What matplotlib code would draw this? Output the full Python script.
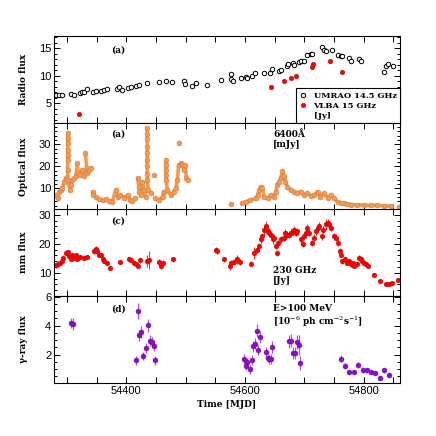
import numpy as np
import matplotlib
matplotlib.use("Agg")
import matplotlib.pyplot as plt
from matplotlib.ticker import MultipleLocator, FuncFormatter
from matplotlib.lines import Line2D

# ---- radio (UMRAO 14.5 GHz, VLBA 15 GHz) [Jy]
umrao_t = [54281, 54287, 54292, 54306, 54311, 54322, 54326, 54329, 54333, 54343,
           54348, 54357, 54362, 54368, 54384, 54388, 54393, 54402, 54407, 54417,
           54421, 54435, 54455, 54466, 54476, 54497, 54499, 54511, 54517, 54535,
           54559, 54576, 54576, 54580, 54593, 54601, 54604, 54612, 54616, 54632,
           54642, 54646, 54657, 54660, 54670, 54672, 54681, 54683, 54691, 54694,
           54699, 54705, 54711, 54713, 54730, 54733, 54736, 54747, 54756, 54761,
           54764, 54775, 54778, 54792, 54795, 54834, 54837, 54840, 54849]
umrao_f = [6.4, 6.5, 6.5, 6.7, 6.45, 6.9, 6.95, 7.0, 7.5, 7.1,
           7.2, 7.3, 7.4, 7.55, 7.55, 7.85, 7.4, 7.7, 8.0, 8.15,
           8.3, 8.6, 8.9, 9.0, 8.9, 9.1, 8.5, 8.15, 8.75, 8.3,
           9.25, 10.3, 9.35, 9.05, 9.65, 9.8, 9.55, 9.85, 10.45, 10.4,
           10.55, 11.2, 10.9, 11.05, 11.7, 12.1, 12.3, 12.0, 12.45, 12.7,
           12.7, 13.7, 14.0, 14.0, 15.2, 14.6, 14.4, 14.6, 13.8, 13.55,
           13.6, 13.2, 12.75, 13.0, 12.6, 10.7, 11.8, 12.1, 11.7]
vlba_t = [54320, 54643, 54665, 54678, 54685, 54712, 54715, 54743, 54764]
vlba_f = [3.1, 7.9, 9.05, 9.65, 10.0, 11.55, 12.2, 12.7, 10.75]

# ---- optical 6400 A [mJy]
opt_t = [54281, 54284, 54287, 54290, 54292, 54295, 54298,
         54301, 54301, 54301, 54301, 54301, 54301, 54301, 54301,
         54305, 54307, 54309, 54312, 54315, 54317, 54319, 54322, 54326, 54329,
         54331, 54333, 54334, 54337, 54340, 54343, 54344, 54348, 54354, 54360,
         54365, 54371, 54376, 54382, 54385, 54390, 54396, 54402, 54406, 54410,
         54415, 54419, 54421, 54422, 54424, 54427, 54430, 54433,
         54435, 54435, 54435, 54435, 54435, 54435, 54435, 54435, 54435,
         54437, 54441, 54447, 54449, 54455, 54461, 54463,
         54467, 54467, 54467, 54467, 54467, 54469, 54475, 54480, 54483, 54486,
         54488, 54489, 54492, 54494, 54497, 54499, 54501, 54504,
         54577, 54595, 54601, 54608, 54618, 54621, 54624, 54626, 54629, 54632,
         54638, 54643, 54649, 54652, 54654, 54657, 54660, 54663, 54666, 54668,
         54671, 54677, 54683, 54688, 54694, 54699, 54705, 54711, 54716, 54722,
         54727, 54733, 54739, 54744, 54750, 54756, 54761, 54767, 54772, 54778,
         54789, 54800, 54812, 54823, 54834, 54845, 54859]
opt_f = [6.9, 5.4, 8.5, 9.2, 10.0, 13.0, 14.6,
         35.4, 33.0, 30.5, 27.7, 25.0, 23.0, 18.5, 13.8,
         9.2, 11.5, 13.8, 14.6, 15.4, 21.5, 16.9, 16.2, 18.5, 15.4,
         26.2, 19.2, 16.9, 18.5, 19.2, 8.5, 6.9, 6.2, 4.9, 4.6,
         4.9, 4.3, 3.8, 9.2, 6.2, 6.9, 5.8, 6.9, 4.6, 4.2,
         5.4, 14.6, 10.8, 8.5, 6.9, 13.0, 9.2, 6.2,
         37.7, 35.0, 32.3, 29.0, 26.2, 23.0, 20.0, 16.5, 13.8,
         9.2, 7.7, 16.2, 5.4, 4.6, 6.2, 8.5,
         23.1, 20.5, 18.5, 16.0, 13.8, 9.2, 6.9, 8.5, 10.0, 13.8,
         20.8, 30.8, 21.5, 20.8, 18.5, 20.8, 14.6, 13.8,
         2.8, 3.4, 3.8, 4.6, 5.4, 6.9, 9.2, 10.8, 10.0, 6.2,
         5.4, 6.9, 6.2, 8.5, 11.5, 13.0, 14.6, 17.7, 15.4, 13.0,
         10.8, 9.2, 8.5, 7.7, 8.5, 6.9, 8.0, 6.5, 6.9, 8.5,
         6.2, 7.7, 5.8, 6.9, 5.4, 3.8, 3.4, 3.1, 2.8, 2.6,
         2.5, 2.3, 2.2, 2.2, 2.0, 1.8, 1.5]

# ---- mm 230 GHz [Jy]
mm_t = [54281, 54285, 54288, 54291, 54294, 54298, 54301, 54304, 54306, 54309,
        54312, 54315, 54317, 54322, 54329, 54334, 54346, 54348, 54351, 54354,
        54357, 54360, 54363, 54367, 54372, 54390, 54404, 54407, 54412, 54416,
        54420, 54423, 54435, 54438, 54455, 54458, 54461, 54478, 54551, 54552,
        54565, 54575, 54577, 54581, 54587, 54591, 54610, 54615, 54620, 54624,
        54626, 54629, 54632, 54635, 54638, 54640, 54643, 54647, 54649, 54652,
        54653, 54656, 54660, 54666, 54668, 54671, 54674, 54677, 54680, 54683,
        54685, 54688, 54694, 54697, 54699, 54702, 54705, 54708, 54713, 54716,
        54719, 54722, 54725, 54730, 54732, 54736, 54739, 54741, 54744, 54749,
        54753, 54757, 54760, 54762, 54764, 54768, 54771, 54775, 54778, 54781,
        54783, 54788, 54792, 54795, 54797, 54800, 54803, 54807, 54817, 54827,
        54837, 54843, 54848, 54857]
mm_f = [12.6, 13.2, 13.4, 14.0, 15.2, 16.9, 17.1, 15.7, 14.6, 16.0,
        15.2, 16.0, 14.8, 15.5, 15.2, 15.5, 17.5, 18.3, 17.5, 16.3,
        16.0, 14.6, 14.0, 13.4, 11.7, 13.8, 14.8, 14.4, 13.4, 12.9,
        12.3, 14.3, 14.0, 14.4, 13.7, 12.3, 13.4, 14.6, 18.0, 17.5,
        14.6, 12.5, 13.4, 13.7, 14.6, 13.7, 13.2, 16.9, 18.0, 19.2,
        21.5, 22.6, 24.7, 26.1, 24.4, 23.8, 23.2, 21.5, 22.1, 19.2,
        16.9, 20.3, 21.5, 22.1, 23.8, 23.2, 23.2, 23.8, 24.4, 24.9,
        23.8, 24.4, 21.5, 19.8, 22.6, 23.8, 25.5, 23.8, 20.3, 22.1,
        24.4, 25.5, 26.1, 22.6, 24.9, 26.7, 27.2, 26.7, 25.5, 22.6,
        22.1, 20.3, 17.5, 16.3, 14.0, 14.6, 13.4, 14.0, 12.9, 13.4,
        12.3, 12.9, 15.2, 14.6, 14.0, 13.4, 12.9, 12.3, 9.4, 7.1,
        6.0, 6.2, 6.6, 7.4]
mm_e = [0.8, 0.7, 0.7, 0.8, 0.8, 0.9, 0.8, 0.7, 0.7, 0.8,
        0.7, 0.7, 0.7, 0.7, 0.7, 0.7, 0.9, 0.9, 0.8, 0.8,
        0.7, 0.7, 0.7, 0.7, 0.6, 0.7, 0.8, 0.7, 0.7, 0.7,
        0.7, 0.8, 2.0, 3.0, 1.2, 0.9, 0.9, 0.8, 0.9, 0.9,
        0.8, 1.5, 0.9, 0.9, 1.5, 1.0, 0.8, 2.0, 1.0, 1.2,
        1.2, 1.2, 1.5, 1.8, 1.5, 1.5, 1.2, 1.5, 1.2, 1.0,
        1.0, 1.0, 1.2, 1.2, 1.2, 1.2, 1.2, 1.2, 1.2, 1.2,
        1.2, 1.2, 1.2, 1.0, 1.2, 1.2, 1.5, 1.2, 1.0, 1.2,
        1.2, 1.2, 1.5, 1.2, 1.2, 1.8, 1.5, 1.2, 1.2, 1.2,
        1.2, 1.2, 1.0, 1.0, 0.8, 0.9, 0.8, 0.8, 0.8, 0.8,
        0.8, 0.8, 0.8, 0.8, 0.8, 0.7, 0.7, 0.7, 0.6, 0.6,
        0.5, 0.5, 0.5, 0.6]

# ---- gamma E>100 MeV [1e-6 ph cm^-2 s^-1]
gam_t = [54306, 54310, 54416, 54419, 54421, 54424, 54428, 54433, 54437, 54440,
         54443, 54447, 54449, 54598, 54601, 54604, 54608, 54611, 54614, 54617,
         54620, 54622, 54625, 54635, 54638, 54640, 54643, 54646, 54674, 54677,
         54681, 54684, 54687, 54690, 54692, 54761, 54768, 54775, 54784, 54790,
         54798, 54805, 54812, 54819, 54827, 54834, 54842]
gam_f = [4.18, 4.11, 1.61, 4.99, 3.33, 3.54, 1.89, 2.46, 4.02, 2.97,
         2.85, 2.57, 1.59, 1.70, 1.24, 1.49, 0.97, 1.61, 2.57, 2.76,
         3.66, 2.34, 3.22, 2.16, 1.77, 1.66, 1.70, 2.51, 2.92, 2.97,
         2.11, 2.11, 2.87, 2.64, 1.43, 1.72, 1.20, 0.80, 0.78, 1.26,
         0.90, 0.90, 0.78, 0.74, 0.39, 0.90, 0.57]
gam_e = [0.35, 0.4, 0.3, 0.55, 0.4, 0.4, 0.3, 0.35, 0.45, 0.35,
         0.35, 0.35, 0.3, 0.35, 0.3, 0.3, 0.3, 0.35, 0.4, 0.4,
         0.45, 0.35, 0.4, 0.35, 0.3, 0.3, 0.35, 0.4, 0.45, 0.45,
         0.4, 0.4, 0.5, 0.7, 0.5, 0.25, 0.2, 0.15, 0.15, 0.2,
         0.15, 0.15, 0.15, 0.15, 0.12, 0.15, 0.12]

XLIM = (54278, 54861)
LABEL_FONT = dict(family="DejaVu Serif", fontweight="bold", fontsize=6.5)
OPT_COLOR = "#f59a52"

plt.rcParams["font.family"] = ["Liberation Sans", "DejaVu Sans"]
plt.rcParams["mathtext.fontset"] = "dejavuserif"

fig = plt.figure(figsize=(4.36, 4.36), dpi=100)
left, width = 54 / 436, 346 / 436
h = 87 / 436
bottoms = [1 - 123 / 436, 1 - 210 / 436, 1 - 296 / 436, 1 - 383 / 436]
axes = [fig.add_axes([left, b, width, h]) for b in bottoms]


def style_axis(ax, ymajor, yminor, ylim):
    ax.set_xlim(*XLIM)
    ax.set_ylim(*ylim)
    ax.xaxis.set_major_locator(MultipleLocator(50))
    ax.yaxis.set_major_locator(MultipleLocator(ymajor))
    ax.yaxis.set_minor_locator(MultipleLocator(yminor))
    ax.tick_params(which="both", direction="in", top=True, right=True,
                   labelsize=8, width=0.7, pad=2)
    ax.tick_params(which="major", length=4)
    ax.tick_params(which="minor", length=2)
    for s in ax.spines.values():
        s.set_linewidth(0.8)


# radio
ax = axes[0]
ax.plot(umrao_t, umrao_f, "o", ms=3.2, mfc="white", mec="black", mew=0.7,
        label="UMRAO 14.5 GHz")
ax.plot(vlba_t, vlba_f, "o", ms=3.3, color="red", mec="#a00000", mew=0.3,
        label="VLBA 15 GHz")
style_axis(ax, 5, 1, (1.4, 17.2))
handles, labels = ax.get_legend_handles_labels()
handles.append(Line2D([], [], linestyle="none"))
labels.append("[Jy]")
leg = ax.legend(handles, labels, loc="lower right", borderaxespad=0,
                fancybox=False, edgecolor="black", framealpha=1,
                prop=dict(family="DejaVu Serif", weight="bold", size=6),
                handlelength=0.8, handletextpad=0.9, labelspacing=0.25,
                borderpad=0.4)
leg.get_frame().set_linewidth(0.8)
ax.set_ylabel("Radio flux", **LABEL_FONT)
ax.text(0.185, 0.84, "(a)", transform=ax.transAxes, ha="center", va="center",
        **LABEL_FONT)

# optical: dense sampling -> join neighbouring points into a thick band
ax = axes[1]
t = np.array(opt_t)
f = np.array(opt_f)
brk = np.where((np.diff(t) > 12) | ((np.diff(t) > 0) & (np.abs(np.diff(f)) > 8)))[0] + 1
for seg_t, seg_f in zip(np.split(t, brk), np.split(f, brk)):
    ax.plot(seg_t, seg_f, "-", color=OPT_COLOR, lw=2.6, solid_capstyle="round")
ax.plot(opt_t, opt_f, "o", ms=3.6, color=OPT_COLOR, mec="#c87038", mew=0.3)
style_axis(ax, 10, 2, (0.1, 39.8))
ax.set_ylabel("Optical flux", **LABEL_FONT)
ax.text(0.185, 0.87, "(a)", transform=ax.transAxes, ha="center", va="center",
        **LABEL_FONT)
ax.text(0.633, 0.92, "6400Å\n[mJy]", transform=ax.transAxes, ha="left",
        va="top", linespacing=1.1, **LABEL_FONT)

# mm
ax = axes[2]
ax.errorbar(mm_t, mm_f, yerr=mm_e, fmt="o", ms=3.4, color="red",
            ecolor="#ff2020", elinewidth=0.7, capsize=0, mec="#c00000", mew=0.3)
style_axis(ax, 10, 2, (2, 32))
ax.set_ylabel("mm flux", **LABEL_FONT)
ax.text(0.185, 0.86, "(c)", transform=ax.transAxes, ha="center", va="center",
        **LABEL_FONT)
ax.text(0.633, 0.34, "230 GHz\n[Jy]", transform=ax.transAxes, ha="left",
        va="top", linespacing=1.1, **LABEL_FONT)

# gamma
ax = axes[3]
ax.errorbar(gam_t, gam_f, yerr=gam_e, fmt="o", ms=3.6, color="#8c10c8",
            ecolor="#b050e8", elinewidth=0.9, capsize=0, mec="#6a0098", mew=0.3)
style_axis(ax, 2, 0.5, (0.03, 6.05))
ax.set_ylabel("γ-ray flux", **LABEL_FONT)
ax.text(0.185, 0.85, "(d)", transform=ax.transAxes, ha="center", va="center",
        **LABEL_FONT)
ax.text(0.633, 0.91, "E>100 MeV\n[10$^{-6}$ ph cm$^{-2}$s$^{-1}$]",
        transform=ax.transAxes, ha="left", va="top", linespacing=1.2,
        **LABEL_FONT)
ax.set_xlabel("Time [MJD]", labelpad=3, **LABEL_FONT)

for i, ax in enumerate(axes):
    ax.yaxis.set_label_coords(-0.075, 0.5)
    if i < 3:
        ax.tick_params(labelbottom=False)
axes[3].xaxis.set_major_formatter(
    FuncFormatter(lambda v, p: f"{v:.0f}" if round(v) % 200 == 0 else ""))

fig.savefig("out.png", dpi=100)
